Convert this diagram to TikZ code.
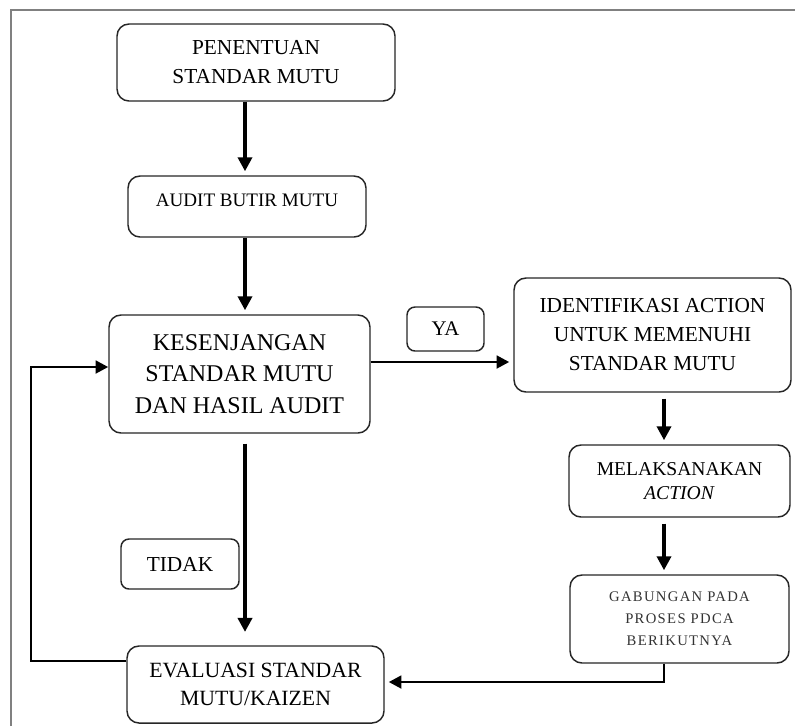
\documentclass[tikz,border=0pt]{standalone}
\usepackage{fontspec}
\setmainfont{Liberation Serif}
\newfontfamily\spacedfont[LetterSpace=9]{Liberation Serif}
\usetikzlibrary{arrows.meta}
\tikzset{
  box/.style={draw=black!85, line width=1.1pt, rounded corners=9pt, align=center, inner sep=0pt, fill=white},
  tag/.style={box, rounded corners=6pt},
  arr/.style={line width=2.7pt, -{Triangle[length=10.5pt,width=10.5pt]}, shorten >=3pt},
  link/.style={line width=2.1pt, -{Triangle[length=9.5pt,width=9.5pt]}},
  frame/.style={draw=black!50, line width=2.2pt}
}
\begin{document}
\begin{tikzpicture}[x=0.75pt,y=-0.75pt]
\useasboundingbox (0,0) rectangle (795,726);
\coordinate (fa) at (11,726);
\coordinate (fb) at (11,10);
\coordinate (fc) at (795,10);
\draw[frame] (fa) -- (fb) -- (fc);

\coordinate (col) at (245,0);
\coordinate (rcol) at (664,0);

\node[box, minimum width=208.5pt, minimum height=57.75pt, font=\fontsize{16}{21.75}\selectfont] (pen) at (256,62.5) {PENENTUAN\\STANDAR MUTU};
\node[box, minimum width=178.5pt, minimum height=45.75pt, text height=8pt, text depth=8pt, font=\fontsize{14.3}{18}\selectfont] (aud) at (247,206.5) {AUDIT BUTIR MUTU};
\node[box, minimum width=195.75pt, minimum height=88.5pt, font=\fontsize{18}{23.8}\selectfont] (kes) at (239.5,374) {KESENJANGAN\\STANDAR MUTU\\DAN HASIL AUDIT};
\node[tag, minimum width=88.5pt, minimum height=37.5pt, font=\fontsize{16}{20}\selectfont] (tidak) at (180,564) {TIDAK};
\node[box, minimum width=192.75pt, minimum height=57.75pt, font=\fontsize{16.3}{21}\selectfont] (eva) at (255.5,684.5) {EVALUASI STANDAR\\MUTU/KAIZEN};
\node[tag, minimum width=57.75pt, minimum height=33pt, font=\fontsize{15.6}{20}\selectfont] (ya) at (445.5,329) {YA};
\node[box, minimum width=207.75pt, minimum height=85.5pt, font=\fontsize{16}{21.75}\selectfont] (ide) at (652.5,335) {IDENTIFIKASI ACTION\\UNTUK MEMENUHI\\STANDAR MUTU};
\node[box, minimum width=165.75pt, minimum height=54pt, font=\fontsize{14.7}{17.5}\selectfont] (mel) at (679.5,481) {MELAKSANAKAN\\\textit{ACTION}};
\node[box, minimum width=164.25pt, minimum height=66pt, font=\spacedfont\fontsize{11}{16.5}\selectfont, text=black!80] (gab) at (679.5,619) {GABUNGAN PADA\\PROSES PDCA\\BERIKUTNYA};

\draw[arr] (pen.south -| col) -- (aud.north -| col);
\draw[arr] (aud.south -| col) -- (kes.north -| col);
\draw[arr, shorten <=7.5pt, shorten >=10pt] (kes.south -| col) -- (eva.north -| col);
\draw[arr, shorten <=4.5pt] (ide.south -| rcol) -- (mel.north -| rcol);
\draw[arr, shorten <=4.5pt] (mel.south -| rcol) -- (gab.north -| rcol);
\draw[link, shorten >=3pt] (kes.east |- 0,362) -- (ide.west |- 0,362);
\coordinate (g1) at (664,682);
\draw[link, shorten >=3pt] (gab.south -| rcol) -- (g1) -- (eva.east |- g1);
\coordinate (e1) at (31,661);
\coordinate (e2) at (31,367);
\draw[link] (eva.west |- e1) -- (e1) -- (e2) -- (kes.west |- e2);
\end{tikzpicture}
\end{document}
